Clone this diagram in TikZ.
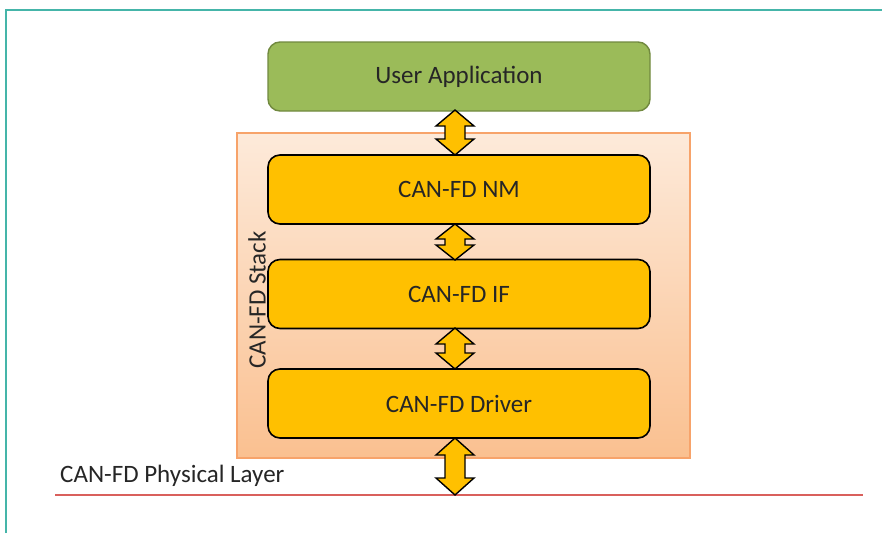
\documentclass[tikz,border=0pt]{standalone}
\usepackage{fontspec}
\setmainfont{Carlito}
\usetikzlibrary{calc}

\definecolor{frameteal}{HTML}{45B5A9}
\definecolor{appgreen}{HTML}{9BBB59}
\definecolor{appedge}{HTML}{71893F}
\definecolor{layeryellow}{HTML}{FFC000}
\definecolor{stacktop}{HTML}{FDEADA}
\definecolor{stackbot}{HTML}{FAC090}
\definecolor{stackedge}{HTML}{F7A36A}
\definecolor{busred}{HTML}{D9605C}
\definecolor{inktext}{HTML}{262626}

\tikzset{
  labelfont/.style={text=inktext, font=\fontsize{25}{30}\selectfont},
  layerbox/.style={rounded corners=12pt, minimum width=382pt, minimum height=69pt,
    inner sep=0pt, labelfont},
  modbox/.style={layerbox, fill=layeryellow, draw=black, line width=1.6pt},
  appbox/.style={layerbox, fill=appgreen, draw=appedge, line width=1.4pt},
  stackbox/.style={top color=stacktop, bottom color=stackbot, draw=stackedge,
    line width=1.2pt, minimum width=453pt, minimum height=325pt, inner sep=0pt},
  arrowfill/.style={fill=layeryellow, draw=black, line width=1.4pt, line join=miter},
}

% vertical double-headed block arrow between two named points (top, bottom),
% third argument is the head length
\newcommand\blockupdown[3]{%
  \filldraw[arrowfill] let \p1=(#1), \p2=(#2) in
    (\x1,\y1) -- (\x1+19pt,\y1-#3) -- (\x1+10pt,\y1-#3)
    -- (\x1+10pt,\y2+#3) -- (\x1+19pt,\y2+#3) -- (\x1,\y2)
    -- (\x1-19pt,\y2+#3) -- (\x1-10pt,\y2+#3)
    -- (\x1-10pt,\y1-#3) -- (\x1-19pt,\y1-#3) -- cycle;}

\begin{document}
\begin{tikzpicture}[x=1pt, y=-1pt]
  \useasboundingbox[fill=white] (0,0) rectangle (882,533);

  % outer frame (top and left edges only)
  \draw[frameteal, line width=2pt] (6,533) -- (6,10) -- (882,10);

  % CAN-FD stack container
  \node[stackbox] (stack) at (463.5,295.5) {};
  \node[rotate=90, labelfont] (stacklabel) at (257,300) {CAN-FD Stack};

  % layers
  \node[appbox] (app) at (459,76.5) {User Application};
  \node[modbox] (nm) at (459,189.5) {CAN-FD NM};
  \node[modbox] (if) at (459,294) {CAN-FD IF};
  \node[modbox] (drv) at (459,403.5) {CAN-FD Driver};

  % physical bus
  \coordinate (busL) at (55,495);
  \coordinate (busR) at (863,495);
  \coordinate (bus) at (455,495);
  \draw[busred, line width=1.4pt] (busL) -- (busR);
  \node[anchor=base west, inner sep=0pt, labelfont] (phy) at (60,482) {CAN-FD Physical Layer};

  % interfaces between layers
  \coordinate (a1t) at (455,110);
  \coordinate (a1b) at (455,155);
  \coordinate (a2t) at (455,224);
  \coordinate (a2b) at (455,260);
  \coordinate (a3t) at (455,328);
  \coordinate (a3b) at (455,369);
  \coordinate (a4t) at (455,438);
  \blockupdown{a1t}{a1b}{16pt}
  \blockupdown{a2t}{a2b}{15pt}
  \blockupdown{a3t}{a3b}{16pt}
  \blockupdown{a4t}{bus}{17pt}
\end{tikzpicture}
\end{document}
